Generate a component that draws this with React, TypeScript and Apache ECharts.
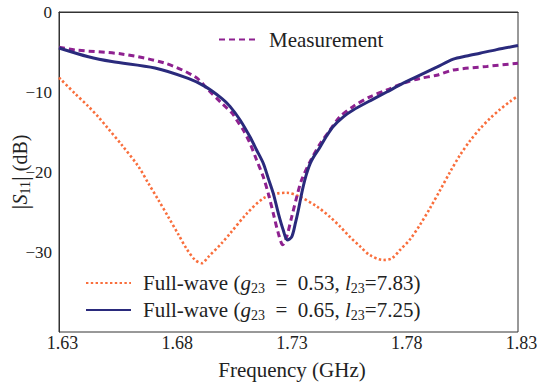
import React, { useEffect, useRef } from 'react';
import * as echarts from 'echarts';

// Measurement (dashed purple)
const measFreq = [1.630, 1.637, 1.6573, 1.6762, 1.6893, 1.6951, 1.7009, 1.7053, 1.7074, 1.7103, 1.7132, 1.7161, 1.7190, 1.7212, 1.7234, 1.7256, 1.7275, 1.7292, 1.7314, 1.7336, 1.7357, 1.7394, 1.7437, 1.7475, 1.7524, 1.7582, 1.7655, 1.7728, 1.7800, 1.7873, 1.7946, 1.8018, 1.8164, 1.830];
const measDb = [-4.4, -4.75, -5.25, -6.4, -8.1, -9.75, -11.4, -12.6, -13.5, -14.75, -16.4, -18.5, -20.6, -22.7, -25.2, -27.7, -29.1, -28.1, -25.6, -23.1, -21.0, -18.7, -16.5, -15.0, -13.1, -11.8, -10.6, -9.75, -8.9, -8.3, -7.9, -7.25, -6.8, -6.4];

// Full-wave g23 = 0.65, l23 = 7.25 (solid navy)
const fwBFreq = [1.630, 1.6428, 1.6530, 1.6718, 1.6863, 1.6936, 1.7009, 1.7045, 1.7089, 1.7132, 1.7161, 1.7190, 1.7212, 1.7234, 1.7256, 1.7277, 1.7295, 1.7314, 1.7330, 1.7343, 1.7361, 1.7379, 1.7400, 1.7437, 1.7466, 1.7495, 1.7539, 1.7582, 1.7655, 1.7728, 1.7800, 1.7873, 1.7946, 1.8018, 1.8076, 1.8134, 1.8207, 1.830];
const fwBDb = [-4.5, -5.6, -6.2, -7.0, -8.3, -9.3, -10.8, -11.8, -13.5, -15.6, -17.25, -18.9, -20.8, -22.7, -25.2, -27.25, -28.5, -28.1, -26.4, -24.75, -22.2, -20.2, -18.6, -16.9, -15.5, -14.3, -13.1, -12.25, -11.1, -10.0, -8.9, -7.9, -6.9, -5.9, -5.5, -5.15, -4.7, -4.2];

// Full-wave g23 = 0.53, l23 = 7.83 (dotted orange)
const fwAFreq = [1.630, 1.637, 1.6428, 1.6471, 1.6515, 1.6573, 1.6646, 1.6689, 1.6733, 1.6776, 1.6820, 1.6856, 1.6893, 1.6922, 1.6951, 1.7009, 1.7045, 1.7118, 1.7190, 1.7249, 1.7292, 1.7350, 1.7423, 1.7480, 1.7524, 1.7567, 1.7612, 1.7655, 1.7713, 1.7750, 1.7786, 1.7830, 1.7873, 1.7917, 1.7960, 1.8004, 1.8047, 1.8091, 1.8134, 1.8178, 1.8221, 1.8265, 1.830];
const fwADb = [-8.2, -10.2, -11.8, -13.1, -14.6, -16.6, -19.3, -21.4, -23.5, -25.6, -27.8, -29.6, -31.0, -31.4, -30.6, -28.9, -27.7, -25.2, -23.3, -22.7, -22.6, -23.1, -24.3, -25.6, -26.8, -28.1, -29.3, -30.4, -31.0, -30.8, -29.75, -28.4, -26.6, -24.5, -22.3, -20.0, -17.9, -16.1, -14.6, -13.3, -12.2, -11.2, -10.5];

const xTicks = ['1.63', '1.68', '1.73', '1.78', '1.83'];

const NAME_MEAS = 'Measurement';
const NAME_A = 'Full-wave (g23 = 0.53, l23=7.83)';
const NAME_B = 'Full-wave (g23 = 0.65, l23=7.25)';

const FONT = 'Liberation Serif, Times New Roman, serif';
const TXT = '#222';

const zip = (xs: number[], ys: number[]) => xs.map((x, i) => [x, ys[i]]);

const LF = 21;
const richBase = {
  n: { fontFamily: FONT, fontSize: LF, color: TXT, lineHeight: 24 },
  i: { fontFamily: FONT, fontSize: LF, fontStyle: 'italic', color: TXT, lineHeight: 24 },
  s: { fontFamily: FONT, fontSize: 14, color: TXT, lineHeight: 14, padding: [10, 0, 0, 0] },
  p: { fontFamily: FONT, fontSize: LF, color: TXT, lineHeight: 24, padding: [0, 0, 0, 8] },
  q: { fontFamily: FONT, fontSize: LF, color: TXT, lineHeight: 24, padding: [0, 0, 0, 7] },
};

const hiddenSymbol = { color: 'rgba(0,0,0,0)', borderColor: 'rgba(0,0,0,0)', borderWidth: 0, opacity: 0 };

export default function App() {
  const ref = useRef<HTMLDivElement>(null);
  useEffect(() => {
    if (!ref.current) return;
    const chart = echarts.init(ref.current, undefined, { renderer: 'svg' });
    chart.setOption({
      animation: false,
      backgroundColor: '#fff',
      grid: {
        left: 59, right: 19, top: 12, bottom: 53, show: true, borderColor: '#333', borderWidth: 1,
        containLabel: false, outerBoundsMode: 'none',
      },
      xAxis: {
        type: 'value', min: 1.63, max: 1.83, interval: 0.05,
        axisLine: { show: true, lineStyle: { color: '#333' } },
        axisTick: { show: false },
        splitLine: { show: false },
        axisLabel: {
          margin: 2, fontFamily: FONT, fontSize: 18, color: TXT, padding: [0, 0, 0, 7],
          alignMinLabel: 'center', alignMaxLabel: 'center', hideOverlap: false,
          formatter: (v: number) => {
            const idx = Math.round((v - 1.63) / 0.05);
            return xTicks[idx] ?? '';
          },
        },
        name: 'Frequency (GHz)', nameLocation: 'middle', nameGap: 27,
        nameTextStyle: { fontFamily: FONT, fontSize: 21, color: TXT, padding: [0, 0, 0, 7] },
      },
      yAxis: {
        type: 'value', min: -40, max: 0, interval: 10,
        axisLine: { show: true, lineStyle: { color: '#333' } },
        axisTick: { show: false },
        splitLine: { show: false },
        axisLabel: {
          margin: 7, fontFamily: FONT, fontSize: 17, color: TXT,
          verticalAlignMinLabel: 'middle', verticalAlignMaxLabel: 'middle',
          formatter: (v: number) => (v <= -40 ? '' : v < 0 ? '\u2212' + Math.abs(v) : String(v)),
        },
        name: '{b||}{i|S}{s|11}{b||}{n| (dB)}', nameLocation: 'middle', nameGap: 26, nameRotate: 90,
        nameMoveOverlap: false,
        nameTextStyle: {
          fontFamily: FONT, fontSize: 20, color: TXT,
          rich: {
            b: { fontFamily: FONT, fontSize: 24, color: TXT, lineHeight: 26 },
            n: { fontFamily: FONT, fontSize: 20, color: TXT, lineHeight: 26 },
            i: { fontFamily: FONT, fontSize: 20, fontStyle: 'italic', color: TXT, lineHeight: 26 },
            s: { fontFamily: FONT, fontSize: 14, color: TXT, lineHeight: 14, padding: [11, 0, 0, 0] },
          },
        },
      },
      legend: [
        {
          data: [NAME_MEAS], left: 218, top: 29, padding: 0, itemWidth: 37, itemHeight: 14,
          itemStyle: hiddenSymbol,
          textStyle: { fontFamily: FONT, fontSize: LF, color: TXT, rich: richBase },
          formatter: (name: string) => `{p|${name}}`,
        },
        {
          data: [NAME_A, NAME_B], orient: 'vertical', left: 85, top: 271, padding: 0, itemWidth: 45, itemHeight: 14, itemGap: 3,
          itemStyle: hiddenSymbol,
          textStyle: { fontFamily: FONT, fontSize: LF, color: TXT, rich: richBase },
          formatter: (name: string) => {
            const m = name.match(/g23 = ([\d.]+), l23=([\d.]+)/);
            if (!m) return name;
            return `{q|Full-wave (}{i|g}{s|23}{n|\u2002=\u2002${m[1]}, }{i|l}{s|23}{n|=${m[2]})}`;
          },
        },
      ],
      series: [
        {
          name: NAME_A, type: 'line', data: zip(fwAFreq, fwADb), showSymbol: false, symbol: 'none',
          smooth: 0.3,
          lineStyle: { color: '#F96E3C', width: 2.6, type: [2.4, 2.4] },
          itemStyle: { color: '#F96E3C' },
        },
        {
          name: NAME_MEAS, type: 'line', data: zip(measFreq, measDb), showSymbol: false, symbol: 'none',
          smooth: 0.3,
          lineStyle: { color: '#8E2190', width: 3, type: [6, 4] },
          itemStyle: { color: '#8E2190' },
        },
        {
          name: NAME_B, type: 'line', data: zip(fwBFreq, fwBDb), showSymbol: false, symbol: 'none',
          smooth: 0.3,
          lineStyle: { color: '#2A2A7C', width: 3 },
          itemStyle: { color: '#2A2A7C' },
        },
      ],
    });
    return () => chart.dispose();
  }, []);
  return <div ref={ref} style={{ position: 'fixed', left: 0, top: 0, width: 537, height: 385 }} />;
}
